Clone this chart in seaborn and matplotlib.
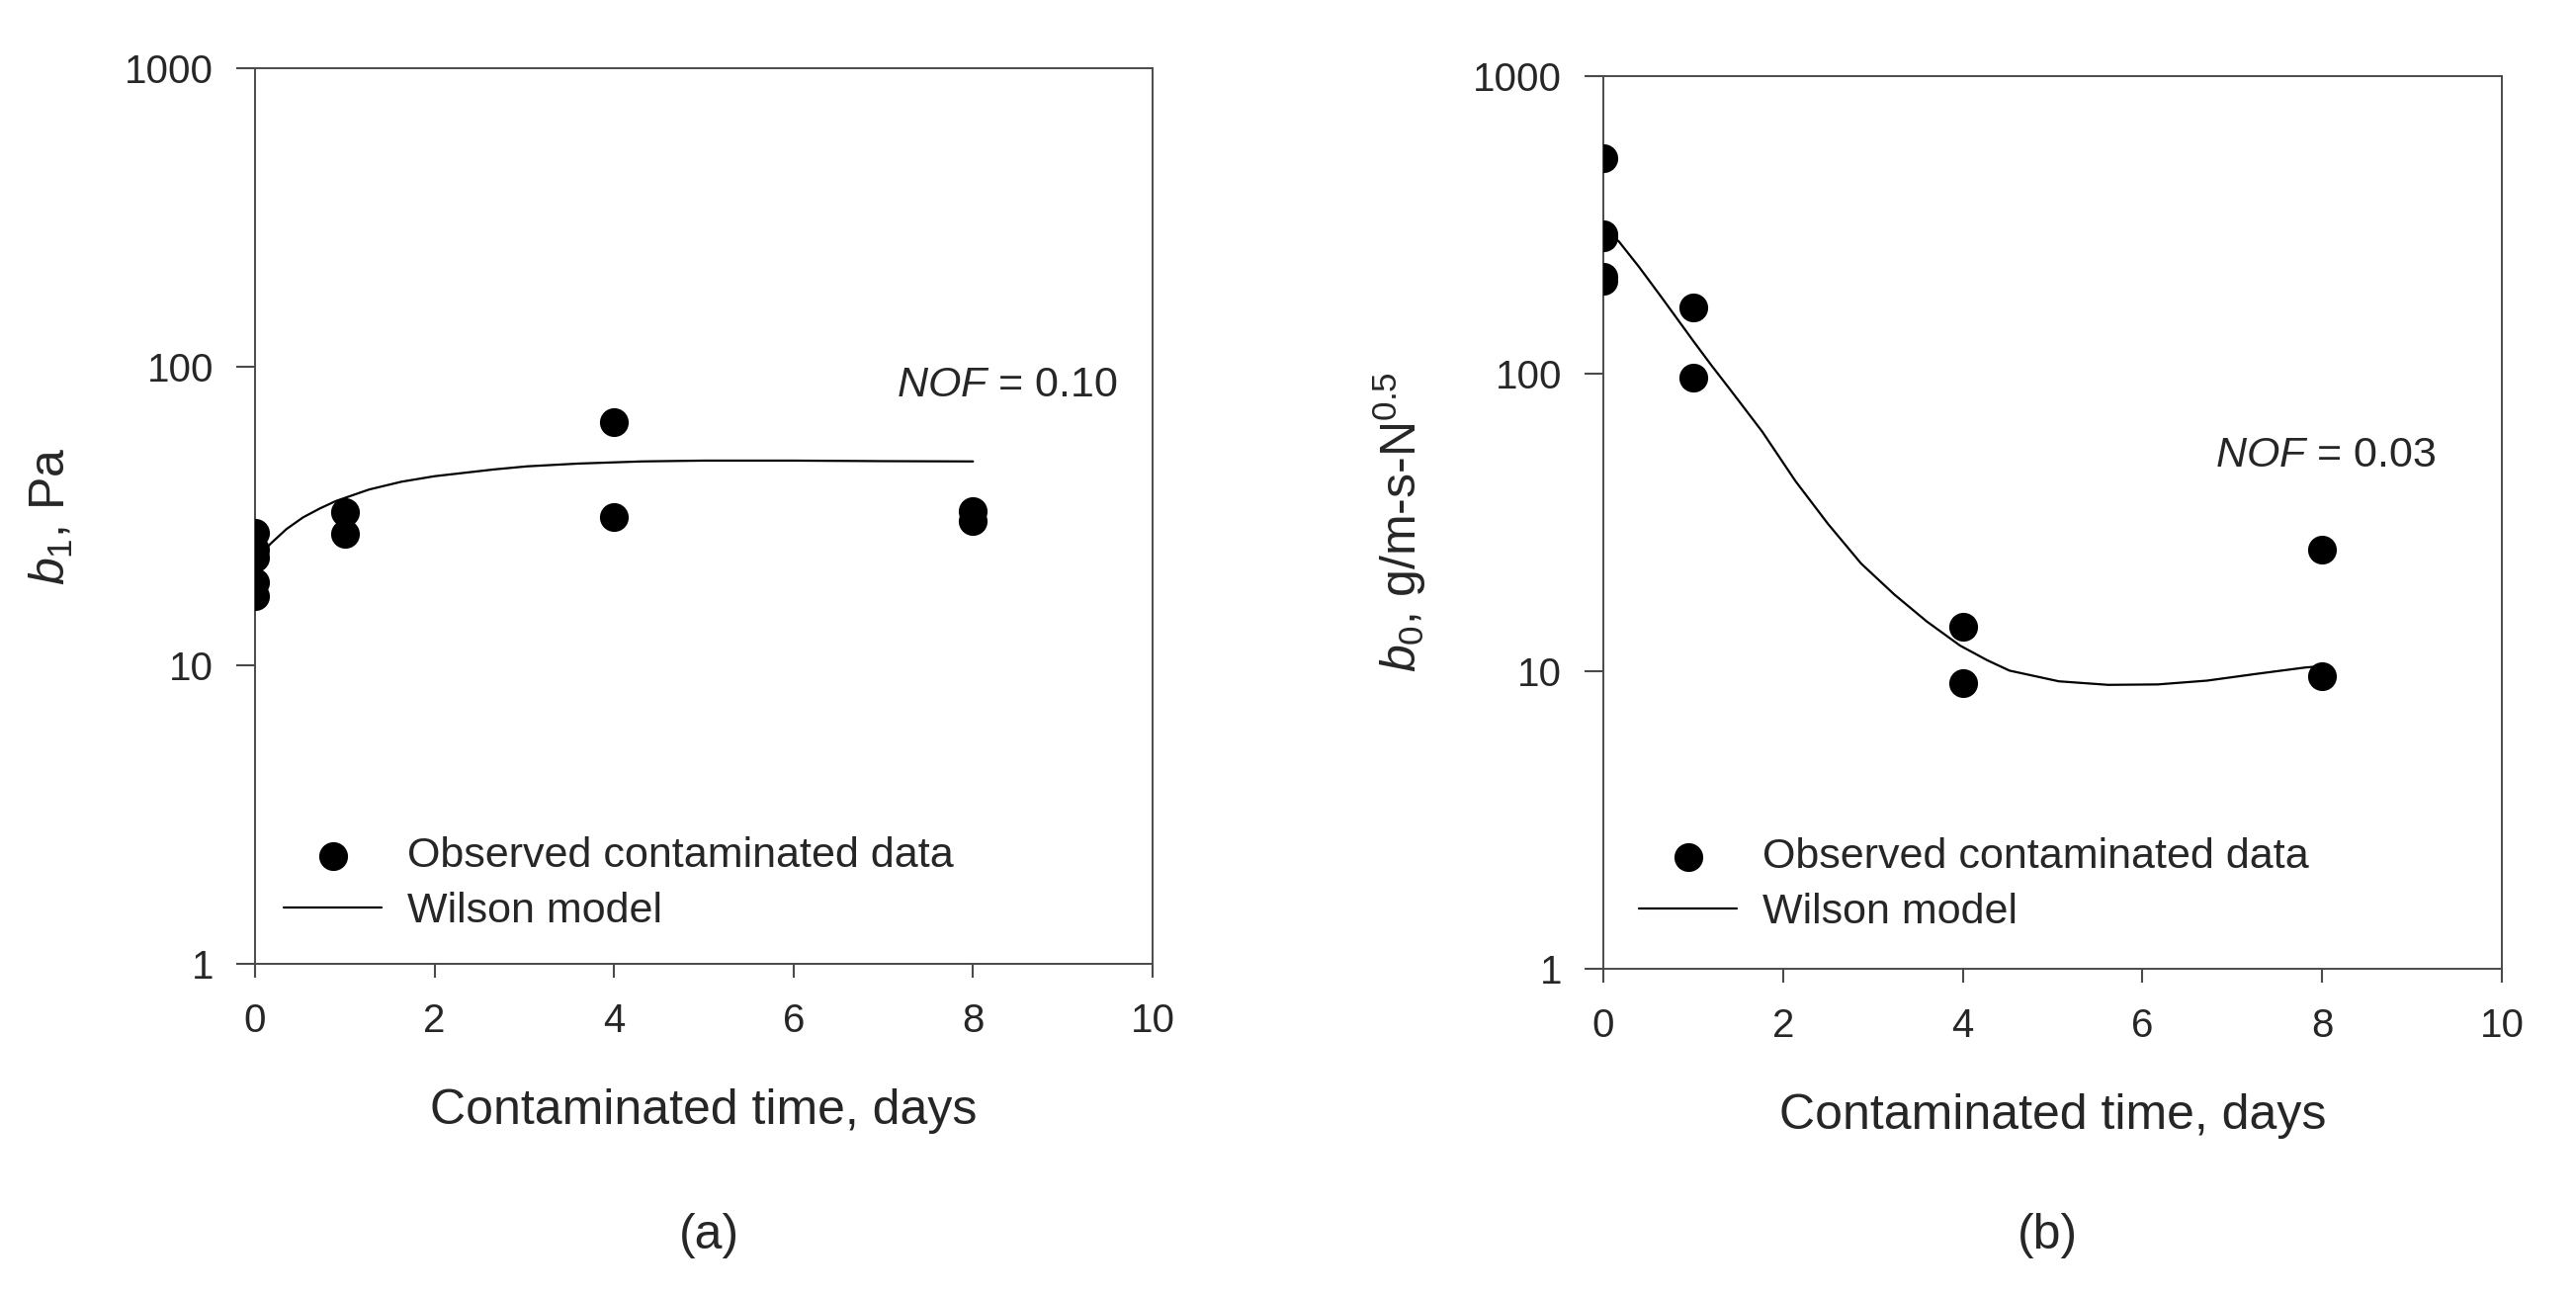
import numpy as np
import pandas as pd
import seaborn as sns
import matplotlib.pyplot as plt
from matplotlib.ticker import NullLocator

# observed points, panel (a): b1 in Pa
obs_a_days = [0, 0, 0, 0, 0, 1, 1, 4, 4, 8, 8]
obs_a_vals = [27.7, 24.5, 23, 19, 17, 32.6, 27.6, 65.3, 31.4, 32.8, 30.5]

# Wilson model curve
fit_a_days = [0, 0.17, 0.35, 0.535, 0.72, 0.9, 1.27, 1.63, 2.0, 2.66, 3.03, 3.6,
              4.31, 5, 6, 7, 8]
fit_a_vals = [22.5, 25.5, 28.6, 31.3, 33.5, 35.5, 38.8, 41.2, 43.0, 45.3, 46.4, 47.4,
              48.2, 48.5, 48.5, 48.3, 48.2]

# observed points, panel (b): b0 in g/m-s-N^0.5
obs_b_days = [0, 0, 0, 0, 0, 1, 1, 4, 4, 8, 8]
obs_b_vals = [530, 295, 288, 211, 205, 167, 97.2, 14.1, 9.14, 25.6, 9.62]

# Wilson model curve
fit_b_days = [0, 0.17, 0.4, 0.64, 1.0, 1.2, 1.405, 1.77, 2.14, 2.5, 2.87, 3.24, 3.6,
              3.97, 4.27, 4.52, 5.07, 5.62, 6.17, 6.72, 7.27, 7.82, 8]
fit_b_vals = [295, 279, 228, 182, 129, 107, 89, 63.8, 43.5, 31.3, 23.0, 18.1, 14.7,
              12.2, 10.9, 10.05, 9.25, 9.0, 9.03, 9.3, 9.8, 10.3, 10.4]

nof_a = "0.10"
nof_b = "0.03"

sns.set_theme(style="ticks")
plt.rcParams["font.family"] = ["Liberation Sans", "DejaVu Sans"]
plt.rcParams["mathtext.fontset"] = "custom"
plt.rcParams["mathtext.rm"] = "Liberation Sans"
plt.rcParams["mathtext.it"] = "Liberation Sans:italic"
plt.rcParams["mathtext.bf"] = "Liberation Sans:bold"

fig = plt.figure(figsize=(26.06, 13.10), dpi=100)
ax_a = fig.add_axes([0.0990, 0.2557, 0.3484, 0.6916])
ax_b = fig.add_axes([0.6224, 0.2519, 0.3488, 0.6893])

spine_col = "#4a4a4a"


def draw_panel(ax, od, ov, fd, fv, ylabel, nof, nof_xy, leg_xy, ylab_x):
    obs = pd.DataFrame({"days": od, "val": ov})
    fit = pd.DataFrame({"days": fd, "val": fv})
    sns.lineplot(data=fit, x="days", y="val", ax=ax, color="black", linewidth=1.6,
                 label="Wilson model", zorder=2)
    sns.scatterplot(data=obs, x="days", y="val", ax=ax, color="black", s=440,
                    edgecolor="black", linewidth=0, label="Observed contaminated data",
                    zorder=3)
    ax.set_yscale("log")
    ax.set_xlim(0, 10)
    ax.set_ylim(1, 1000)
    ax.set_xticks([0, 2, 4, 6, 8, 10])
    ax.set_yticks([1, 10, 100, 1000], labels=["1", "10", "100", "1000"])
    ax.yaxis.set_minor_locator(NullLocator())
    for sp in ax.spines.values():
        sp.set_visible(True)
        sp.set_color(spine_col)
        sp.set_linewidth(1.4)
    ax.tick_params(axis="both", labelsize=29, width=1.5, color=spine_col,
                   direction="out", pad=16)
    ax.tick_params(axis="y", length=14)
    ax.tick_params(axis="x", length=10, pad=18)
    ax.set_xlabel("Contaminated time, days", fontsize=36)
    ax.xaxis.set_label_coords(0.5, -0.139)
    ax.set_ylabel(ylabel, fontsize=36)
    ax.yaxis.set_label_coords(ylab_x, 0.5)
    ax.text(nof_xy[0], nof_xy[1], r"$\mathit{NOF}$ = " + nof, fontsize=31,
            ha="left", va="center")
    h, l = ax.get_legend_handles_labels()
    order = [l.index("Observed contaminated data"), l.index("Wilson model")]
    ax.legend([h[i] for i in order], [l[i] for i in order], loc="upper left",
              bbox_to_anchor=leg_xy, frameon=False, fontsize=31, handlelength=2.3,
              handletextpad=0.6, labelspacing=0.37, borderpad=0, borderaxespad=0,
              markerscale=1.0)


draw_panel(ax_a, obs_a_days, obs_a_vals, fit_a_days, fit_a_vals,
           r"$b_{\mathit{1}}$, Pa", nof_a, (7.15, 86.5), (0.032, 0.142), -0.2)
draw_panel(ax_b, obs_b_days, obs_b_vals, fit_b_days, fit_b_vals,
           r"$b_{\mathit{0}}$, g/m-s-N$^{0.5}$", nof_b, (6.81, 53), (0.04, 0.147), -0.195)

fig.text(717 / 2606, 1 - 1250 / 1310, "(a)", fontsize=36, ha="center", va="center")
fig.text(2071 / 2606, 1 - 1250 / 1310, "(b)", fontsize=36, ha="center", va="center")

fig.savefig("out.png", dpi=100, facecolor="white")
